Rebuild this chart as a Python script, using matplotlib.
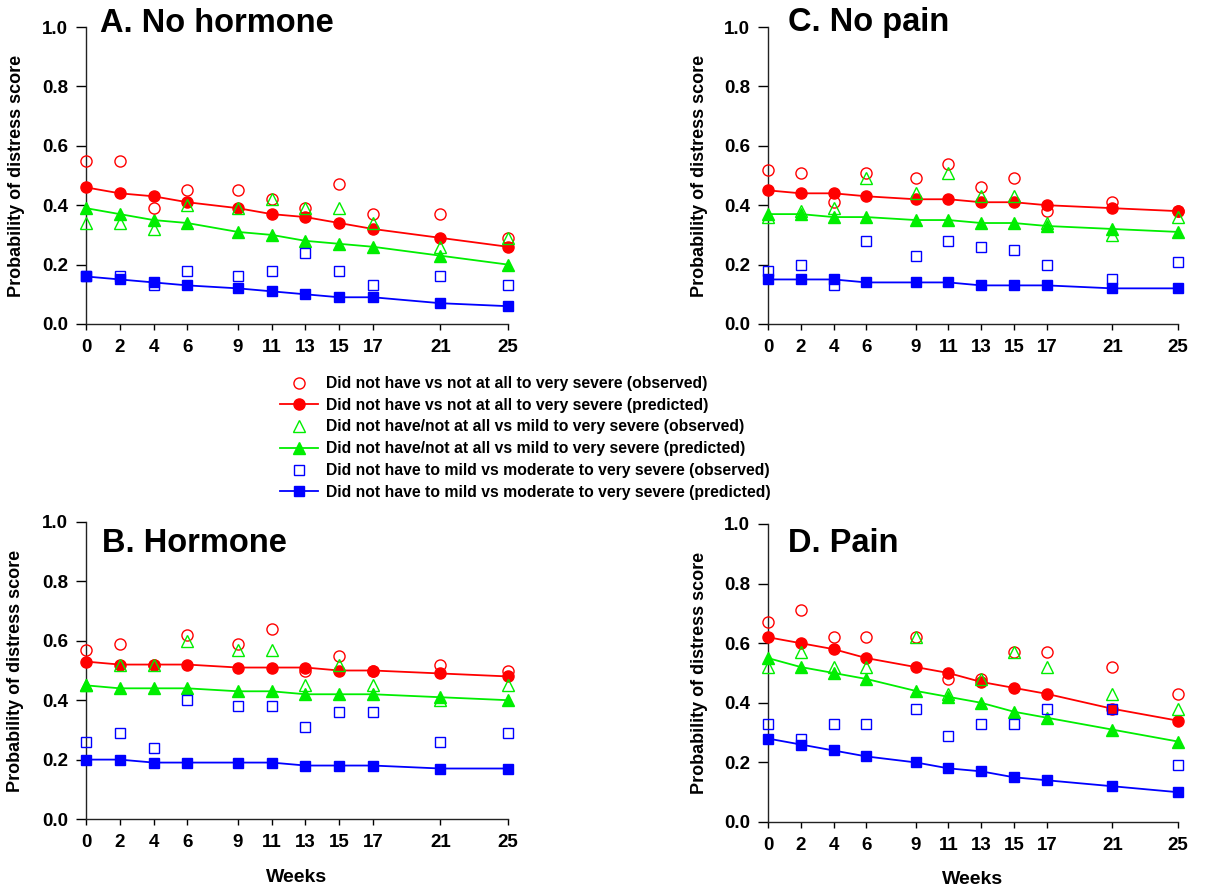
import matplotlib
matplotlib.use("Agg")
import matplotlib.pyplot as plt
from matplotlib.lines import Line2D

plt.rcParams['font.family'] = ['Liberation Sans', 'DejaVu Sans']
plt.rcParams['font.weight'] = 'bold'

weeks = [0, 2, 4, 6, 9, 11, 13, 15, 17, 21, 25]

# Panel A: No hormone
a_red_obs = [0.55, 0.55, 0.39, 0.45, 0.45, 0.42, 0.39, 0.47, 0.37, 0.37, 0.29]
a_red_pred = [0.46, 0.44, 0.43, 0.41, 0.39, 0.37, 0.36, 0.34, 0.32, 0.29, 0.26]
a_green_obs = [0.34, 0.34, 0.32, 0.40, 0.39, 0.42, 0.39, 0.39, 0.34, 0.26, 0.29]
a_green_pred = [0.39, 0.37, 0.35, 0.34, 0.31, 0.30, 0.28, 0.27, 0.26, 0.23, 0.20]
a_blue_obs = [0.16, 0.16, 0.13, 0.18, 0.16, 0.18, 0.24, 0.18, 0.13, 0.16, 0.13]
a_blue_pred = [0.16, 0.15, 0.14, 0.13, 0.12, 0.11, 0.10, 0.09, 0.09, 0.07, 0.06]

# Panel B: Hormone
b_red_obs = [0.57, 0.59, 0.52, 0.62, 0.59, 0.64, 0.50, 0.55, 0.50, 0.52, 0.50]
b_red_pred = [0.53, 0.52, 0.52, 0.52, 0.51, 0.51, 0.51, 0.50, 0.50, 0.49, 0.48]
b_green_obs = [0.45, 0.52, 0.52, 0.60, 0.57, 0.57, 0.45, 0.52, 0.45, 0.40, 0.45]
b_green_pred = [0.45, 0.44, 0.44, 0.44, 0.43, 0.43, 0.42, 0.42, 0.42, 0.41, 0.40]
b_blue_obs = [0.26, 0.29, 0.24, 0.40, 0.38, 0.38, 0.31, 0.36, 0.36, 0.26, 0.29]
b_blue_pred = [0.20, 0.20, 0.19, 0.19, 0.19, 0.19, 0.18, 0.18, 0.18, 0.17, 0.17]

# Panel C: No pain
c_red_obs = [0.52, 0.51, 0.41, 0.51, 0.49, 0.54, 0.46, 0.49, 0.38, 0.41, 0.38]
c_red_pred = [0.45, 0.44, 0.44, 0.43, 0.42, 0.42, 0.41, 0.41, 0.40, 0.39, 0.38]
c_green_obs = [0.36, 0.38, 0.39, 0.49, 0.44, 0.51, 0.43, 0.43, 0.34, 0.30, 0.36]
c_green_pred = [0.37, 0.37, 0.36, 0.36, 0.35, 0.35, 0.34, 0.34, 0.33, 0.32, 0.31]
c_blue_obs = [0.18, 0.20, 0.13, 0.28, 0.23, 0.28, 0.26, 0.25, 0.20, 0.15, 0.21]
c_blue_pred = [0.15, 0.15, 0.15, 0.14, 0.14, 0.14, 0.13, 0.13, 0.13, 0.12, 0.12]

# Panel D: Pain
d_red_obs = [0.67, 0.71, 0.62, 0.62, 0.62, 0.48, 0.48, 0.57, 0.57, 0.52, 0.43]
d_red_pred = [0.62, 0.60, 0.58, 0.55, 0.52, 0.50, 0.47, 0.45, 0.43, 0.38, 0.34]
d_green_obs = [0.52, 0.57, 0.52, 0.52, 0.62, 0.43, 0.48, 0.57, 0.52, 0.43, 0.38]
d_green_pred = [0.55, 0.52, 0.50, 0.48, 0.44, 0.42, 0.40, 0.37, 0.35, 0.31, 0.27]
d_blue_obs = [0.33, 0.28, 0.33, 0.33, 0.38, 0.29, 0.33, 0.33, 0.38, 0.38, 0.19]
d_blue_pred = [0.28, 0.26, 0.24, 0.22, 0.20, 0.18, 0.17, 0.15, 0.14, 0.12, 0.10]

titles = ["A. No hormone", "B. Hormone", "C. No pain", "D. Pain"]
legend_labels = [
    "Did not have vs not at all to very severe (observed)",
    "Did not have vs not at all to very severe (predicted)",
    "Did not have/not at all vs mild to very severe (observed)",
    "Did not have/not at all vs mild to very severe (predicted)",
    "Did not have to mild vs moderate to very severe (observed)",
    "Did not have to mild vs moderate to very severe (predicted)",
]
yticks = [0.0, 0.2, 0.4, 0.6, 0.8, 1.0]

RED, GREEN, BLUE = "#ff0000", "#00ee00", "#0000ff"
W, H = 1218, 893

fig = plt.figure(figsize=(W / 100, H / 100), dpi=100)

def ax_px(l, r, t, b):
    return fig.add_axes([l / W, 1 - b / H, (r - l) / W, (b - t) / H])

panels = [
    (ax_px(86, 508, 27, 324), titles[0], (100, 23),
     (a_red_obs, a_red_pred, a_green_obs, a_green_pred, a_blue_obs, a_blue_pred), False, 874, 17),
    (ax_px(86, 508, 522, 819), titles[1], (102, 543),
     (b_red_obs, b_red_pred, b_green_obs, b_green_pred, b_blue_obs, b_blue_pred), True, 878, 16),
    (ax_px(768, 1178, 27, 324), titles[2], (788, 23),
     (c_red_obs, c_red_pred, c_green_obs, c_green_pred, c_blue_obs, c_blue_pred), False, 874, 700),
    (ax_px(768, 1178, 524, 822), titles[3], (788, 543),
     (d_red_obs, d_red_pred, d_green_obs, d_green_pred, d_blue_obs, d_blue_pred), True, 880, 700),
]

ms_f = 8
ms_o = 8
for ax, title, (tx, ty), data, show_x, xl_y, yl_x in panels:
    ro, rp, go, gp, bo, bp = data
    kw = dict(clip_on=False, zorder=3)
    ax.plot(weeks, rp, color=RED, lw=1.3, marker='o', ms=ms_f, mfc=RED, mec=RED, **kw)
    ax.plot(weeks, gp, color=GREEN, lw=1.3, marker='^', ms=ms_f, mfc=GREEN, mec=GREEN, **kw)
    ax.plot(weeks, bp, color=BLUE, lw=1.3, marker='s', ms=ms_f - 1, mfc=BLUE, mec=BLUE, **kw)
    ax.plot(weeks, ro, ls='none', marker='o', ms=ms_o, mfc='none', mec=RED, mew=1.0, **kw)
    ax.plot(weeks, go, ls='none', marker='^', ms=ms_o, mfc='none', mec=GREEN, mew=1.0, **kw)
    ax.plot(weeks, bo, ls='none', marker='s', ms=ms_o - 1, mfc='none', mec=BLUE, mew=1.0, **kw)

    ax.set_xlim(0, 25)
    ax.set_ylim(0, 1)
    ax.set_xticks(weeks)
    ax.set_xticklabels([str(w) for w in weeks], fontsize=13.5, fontweight='bold')
    ax.set_yticks(yticks)
    ax.set_yticklabels([f"{v:.1f}" for v in yticks], fontsize=13.5, fontweight='bold')
    ax.tick_params(axis='y', direction='out', length=7, width=1, pad=6)
    ax.tick_params(axis='x', direction='out', length=4, width=1, pad=7)
    for s in ['top', 'right']:
        ax.spines[s].set_visible(False)
    for s in ['left', 'bottom']:
        ax.spines[s].set_color('#222222')
        ax.spines[s].set_linewidth(1.0)

    bb = ax.get_position()
    fig.text(yl_x / W, (bb.y0 + bb.y1) / 2, "Probability of distress score", fontsize=13,
             fontweight='bold', rotation=90, ha='center', va='center')
    if show_x:
        fig.text((bb.x0 + bb.x1) / 2, 1 - xl_y / H, "Weeks", fontsize=14, fontweight='bold',
                 ha='center', va='center')
    fig.text(tx / W, 1 - ty / H, title, fontsize=23.5, fontweight='bold', va='center', ha='left')

handles = [
    Line2D([], [], ls='none', marker='o', ms=ms_o, mfc='none', mec=RED, mew=1.0),
    Line2D([], [], color=RED, lw=1.3, marker='o', ms=ms_f, mfc=RED, mec=RED),
    Line2D([], [], ls='none', marker='^', ms=ms_o, mfc='none', mec=GREEN, mew=1.0),
    Line2D([], [], color=GREEN, lw=1.3, marker='^', ms=ms_f, mfc=GREEN, mec=GREEN),
    Line2D([], [], ls='none', marker='s', ms=ms_o - 1, mfc='none', mec=BLUE, mew=1.0),
    Line2D([], [], color=BLUE, lw=1.3, marker='s', ms=ms_f - 1, mfc=BLUE, mec=BLUE),
]
leg = fig.legend(handles, legend_labels, loc='upper left',
                 bbox_to_anchor=(280 / W, 1 - 376 / H), frameon=False,
                 handlelength=2.4, handletextpad=0.55,
                 labelspacing=0.43, borderpad=0, borderaxespad=0,
                 prop={'weight': 'bold', 'size': 11.3})

fig.savefig("out.png", dpi=100)
